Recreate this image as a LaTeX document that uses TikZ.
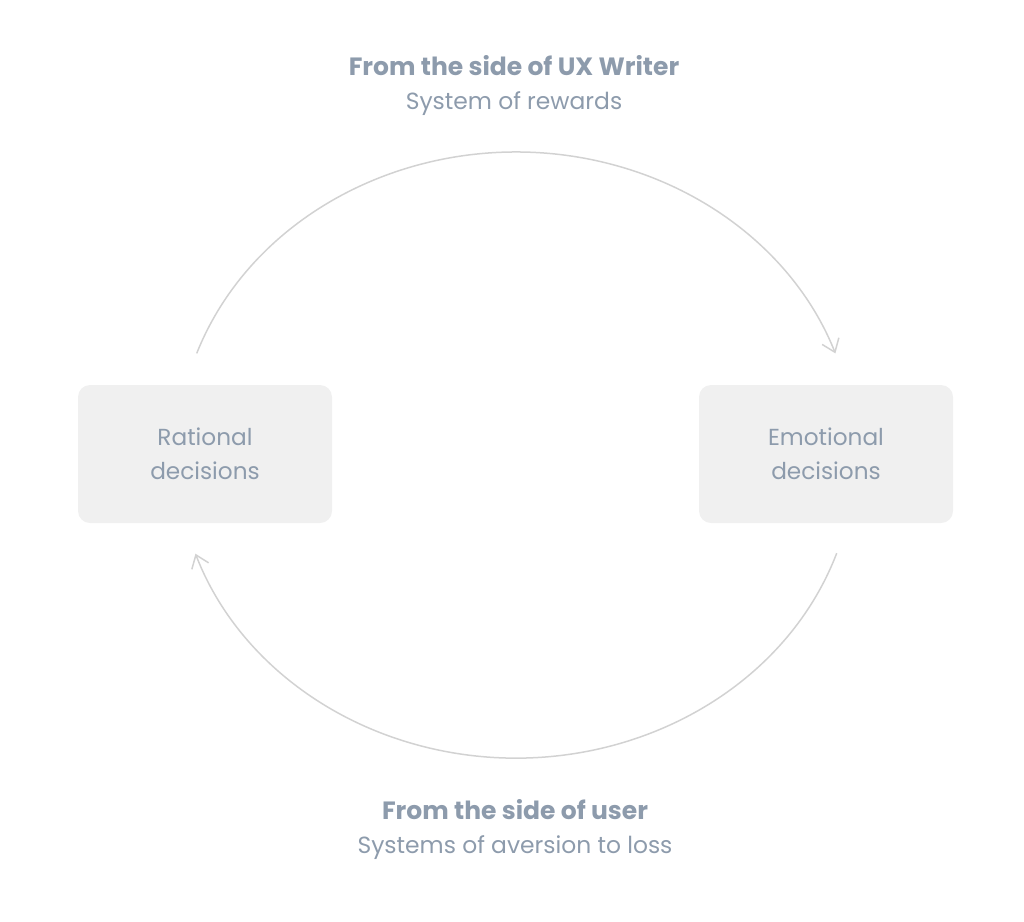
\documentclass[tikz,border=0pt]{standalone}
\usepackage{fontspec}
\setmainfont{Poppins}
\usetikzlibrary{arrows.meta,positioning}
\definecolor{labelgray}{RGB}{141,155,172}
\definecolor{boxgray}{RGB}{240,240,240}
\definecolor{linegray}{RGB}{210,210,210}
\tikzstyle{dbox} = [rectangle, fill=boxgray, text=labelgray, align=center,
    minimum width=254pt, minimum height=138pt, rounded corners=12pt,
    font=\fontsize{23.2}{34}\selectfont]
\tikzstyle{head} = [text=labelgray, anchor=base, font=\bfseries\fontsize{25}{34}\selectfont]
\tikzstyle{sub} = [text=labelgray, anchor=base, font=\fontsize{23.4}{34}\selectfont]

\begin{document}
\begin{tikzpicture}[x=1pt,y=-1pt,>={Straight Barb[length=12pt,width=18pt]},
                    cycline/.style={draw=linegray,line width=1.5pt}]
  \useasboundingbox (0,0) rectangle (1024,921);
  \node[dbox] (rat) at (205,454) {Rational\\decisions};
  \node[dbox] (emo) at (826,454) {Emotional\\decisions};

  \node[head] (ux)   at (514,75)  {From the side of UX Writer};
  \node[sub]  (rew)  [below=34pt of ux.base, anchor=base] {System of rewards};
  \node[head] (user) at (515,819) {From the side of user};
  \node[sub]  (loss) [below=34pt of user.base, anchor=base] {Systems of aversion to loss};

  \coordinate (ts) at (196.7,353.4);
  \coordinate (bs) at (836.7,553.2);
  \draw[cycline,->] (ts) arc[start angle=-160.4, end angle=-19.6, x radius=339, y radius=303];
  \draw[cycline,->] (bs) arc[start angle=18.9, end angle=161, x radius=339, y radius=303];
\end{tikzpicture}
\end{document}
